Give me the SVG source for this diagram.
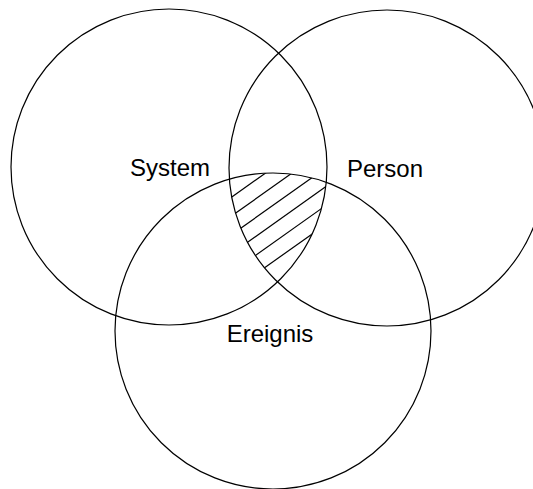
<svg xmlns="http://www.w3.org/2000/svg" width="533" height="489" viewBox="0 0 533 489">
<style>
.c{fill:none;stroke:#000;stroke-width:1.2}
.t{font-family:"Liberation Sans",Arial,sans-serif;font-size:24px;fill:#000;text-anchor:middle}
.h{stroke:#000;stroke-width:1.2}
</style>
<defs>
<clipPath id="cS"><circle cx="169" cy="167" r="158"/></clipPath>
<clipPath id="cP"><circle cx="387" cy="168" r="158"/></clipPath>
<clipPath id="cE"><circle cx="273" cy="331" r="158"/></clipPath>
</defs>
<rect width="533" height="489" fill="#fff"/>
<g id="hatch" clip-path="url(#cS)"><g clip-path="url(#cP)"><g clip-path="url(#cE)">
<line class="h" x1="200" y1="219.6" x2="340" y2="120.2"/>
<line class="h" x1="200" y1="238.4" x2="340" y2="139.0"/>
<line class="h" x1="200" y1="257.2" x2="340" y2="157.8"/>
<line class="h" x1="200" y1="276.0" x2="340" y2="176.6"/>
<line class="h" x1="200" y1="294.8" x2="340" y2="195.4"/>
<line class="h" x1="200" y1="313.6" x2="340" y2="214.2"/>
</g></g></g>
<g id="system"><circle class="c" cx="169" cy="167" r="158"/><text class="t" x="170" y="176">System</text></g>
<g id="person"><circle class="c" cx="387" cy="168" r="158"/><text class="t" x="385" y="177">Person</text></g>
<g id="ereignis"><circle class="c" cx="273" cy="331" r="158"/><text class="t" x="270" y="342">Ereignis</text></g>
</svg>
